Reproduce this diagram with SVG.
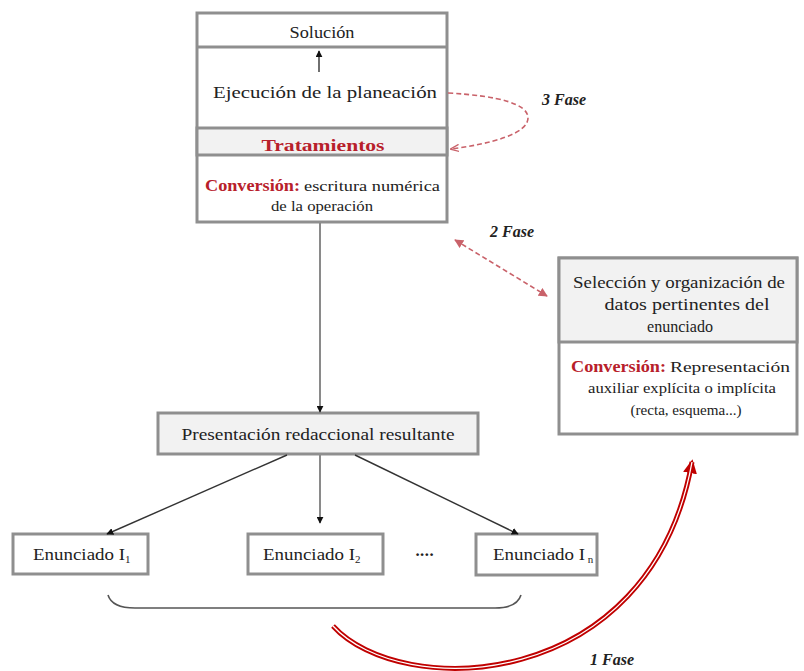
<svg xmlns="http://www.w3.org/2000/svg" width="804" height="671" viewBox="0 0 804 671">
<style>
.box{stroke:#8f8f8f;stroke-width:3;fill:#ffffff}
.gray{fill:#f2f2f2}
.t{font-family:"Liberation Serif","DejaVu Serif",serif;font-size:17px;fill:#222}
.s{font-size:15px}
.red{fill:#b8202a;font-weight:bold}
.fase{font-family:"Liberation Serif","DejaVu Serif",serif;font-size:16px;font-weight:bold;font-style:italic;fill:#222}
.conn{fill:none;stroke:#333;stroke-width:1.4}
.gconn{fill:none;stroke:#8a8a8a;stroke-width:2}
.rdash{fill:none;stroke:#c9626a;stroke-width:1.6;stroke-dasharray:5 3}
</style>
<defs>
<marker id="ah" viewBox="0 0 10 10" refX="9" refY="5" markerWidth="7" markerHeight="7" markerUnits="userSpaceOnUse" orient="auto">
<path d="M0,0 L10,5 L0,10 z" fill="#111"/>
</marker>
<marker id="ahr" viewBox="0 0 10 10" refX="9" refY="5" markerWidth="9" markerHeight="9" markerUnits="userSpaceOnUse" orient="auto-start-reverse">
<path d="M0,0 L10,5 L0,10 z" fill="#c9626a"/>
</marker>
<marker id="aho" viewBox="0 0 10 10" refX="9" refY="5" markerWidth="9" markerHeight="9" markerUnits="userSpaceOnUse" orient="auto">
<path d="M0,1 L10,5 L0,9" fill="none" stroke="#c9626a" stroke-width="1.5"/>
</marker>
<marker id="ahbig" viewBox="0 0 10 10" refX="8" refY="5" markerWidth="14" markerHeight="14" markerUnits="userSpaceOnUse" orient="auto">
<path d="M0,0 L10,5 L0,10 z" fill="#c00000"/>
</marker>
</defs>

<g id="node-top">
<rect class="box" x="197" y="13" width="250" height="209"/>
<rect class="box gray" x="197" y="128" width="250" height="27"/>
<line x1="197" y1="47" x2="447" y2="47" stroke="#8f8f8f" stroke-width="3"/>
<text class="t" x="322" y="38" text-anchor="middle" textLength="65" lengthAdjust="spacingAndGlyphs">Solución</text>
<text class="t" x="325" y="98" text-anchor="middle" textLength="224" lengthAdjust="spacingAndGlyphs">Ejecución de la planeación</text>
<text class="t red" x="323" y="151" text-anchor="middle" font-size="16" textLength="123" lengthAdjust="spacingAndGlyphs">Tratamientos</text>
<text class="t red" x="205" y="191" textLength="95" lengthAdjust="spacingAndGlyphs">Conversión:</text>
<text class="t s" x="304" y="191" textLength="136" lengthAdjust="spacingAndGlyphs">escritura numérica</text>
<text class="t s" x="322" y="211" text-anchor="middle" textLength="102" lengthAdjust="spacingAndGlyphs">de la operación</text>
</g>

<g id="node-presentacion">
<rect class="box gray" x="158" y="413" width="320" height="41"/>
<text class="t" x="318" y="440" text-anchor="middle" textLength="273" lengthAdjust="spacingAndGlyphs">Presentación redaccional resultante</text>
</g>

<g id="node-enunciado1">
<rect class="box" x="13" y="534" width="135" height="40"/>
<text class="t" x="33" y="560"><tspan textLength="92" lengthAdjust="spacingAndGlyphs">Enunciado I</tspan><tspan font-size="11" dy="3">1</tspan></text>
</g>
<g id="node-enunciado2">
<rect class="box" x="248" y="534" width="135" height="40"/>
<text class="t" x="263" y="560"><tspan textLength="92" lengthAdjust="spacingAndGlyphs">Enunciado I</tspan><tspan font-size="11" dy="3">2</tspan></text>
</g>
<g id="node-enunciadon">
<rect class="box" x="476" y="534" width="121" height="41"/>
<text class="t" x="493" y="560"><tspan textLength="92" lengthAdjust="spacingAndGlyphs">Enunciado I</tspan><tspan font-size="11" dy="3"> n</tspan></text>
</g>
<text class="t" x="424" y="560" text-anchor="middle" font-weight="bold" font-size="38" letter-spacing="-1">····</text>

<g id="node-seleccion">
<rect class="box" x="559" y="258" width="238" height="176"/>
<rect class="box gray" x="559" y="258" width="238" height="84"/>
<text class="t" x="679" y="288" text-anchor="middle" textLength="212" lengthAdjust="spacingAndGlyphs">Selección y organización de</text>
<text class="t" x="687" y="310" text-anchor="middle" textLength="165" lengthAdjust="spacingAndGlyphs">datos pertinentes del</text>
<text class="t" x="680" y="332" text-anchor="middle" textLength="66" lengthAdjust="spacingAndGlyphs">enunciado</text>
<text class="t red" x="571" y="372" textLength="95" lengthAdjust="spacingAndGlyphs">Conversión:</text>
<text class="t s" x="670" y="372" textLength="120" lengthAdjust="spacingAndGlyphs">Representación</text>
<text class="t s" x="682" y="393" text-anchor="middle" textLength="188" lengthAdjust="spacingAndGlyphs">auxiliar explícita o implícita</text>
<text class="t s" x="686" y="415" text-anchor="middle" textLength="111" lengthAdjust="spacingAndGlyphs">(recta, esquema...)</text>
</g>

<g id="connectors">
<line class="conn" x1="319" y1="72" x2="319" y2="51" marker-end="url(#ah)"/>
<line class="gconn" x1="320" y1="223" x2="320" y2="412" marker-end="url(#ah)"/>
<line class="conn" x1="287" y1="455" x2="107" y2="534" marker-end="url(#ah)"/>
<line class="gconn" x1="320" y1="455" x2="320" y2="523" marker-end="url(#ah)"/>
<line class="conn" x1="355" y1="455" x2="518" y2="534" marker-end="url(#ah)"/>
<path class="rdash" d="M448,93 C500,96 528,104 528,118 C528,134 490,144 451,149" marker-end="url(#aho)"/>
<line class="rdash" x1="455" y1="240" x2="547" y2="296" marker-start="url(#ahr)" marker-end="url(#ahr)"/>
<path d="M108,595 Q112,608 135,608 L495,608 Q517,608 521,595" fill="none" stroke="#555" stroke-width="1.6"/>
<path d="M333,626 C400,700 650,695 692,462" fill="none" stroke="#c00000" stroke-width="5" marker-end="url(#ahbig)"/>
<path d="M333,626 C400,700 650,695 692,462" fill="none" stroke="#ffffff" stroke-width="1.3"/>
</g>

<text class="fase" x="542" y="105">3 Fase</text>
<text class="fase" x="490" y="237">2 Fase</text>
<text class="fase" x="590" y="665">1 Fase</text>
</svg>
